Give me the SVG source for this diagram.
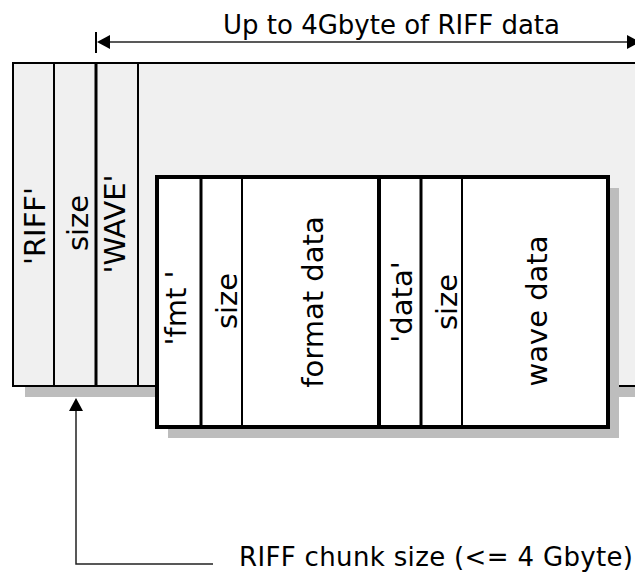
<svg xmlns="http://www.w3.org/2000/svg" width="635" height="579" viewBox="0 0 635 579">
<defs>
<style>
.lbl{font-family:"DejaVu Sans","Liberation Sans",sans-serif;fill:#000}
.h{font-size:26px}
.v{font-size:29px;text-anchor:middle}
.shadow{fill:#bdbdbd}
.outer{fill:#f0f0f0;stroke:#000;stroke-width:2}
.inner{fill:#fff;stroke:#000;stroke-width:4}
.sep{stroke:#000;stroke-width:2}
.sep3{stroke:#000;stroke-width:3}
.sep4{stroke:#000;stroke-width:4}
.conn{stroke:#222;stroke-width:1.5;fill:none}
.head{fill:#000}
</style>
</defs>
<rect width="635" height="579" fill="#fff"/>

<g id="riff-chunk">
<rect class="shadow" x="25" y="74" width="640" height="323"/>
<rect class="outer" x="13" y="63" width="640" height="323"/>
<line class="sep" x1="54" y1="63" x2="54" y2="386"/>
<line class="sep3" x1="96" y1="63" x2="96" y2="386"/>
<line class="sep" x1="138" y1="63" x2="138" y2="386"/>
<text class="lbl v" transform="translate(45,226) rotate(-90)">'RIFF'</text>
<text class="lbl v" transform="translate(88,223) rotate(-90)">size</text>
<text class="lbl v" transform="translate(125,224) rotate(-90)">'WAVE'</text>
</g>

<g id="sub-chunks">
<rect class="shadow" x="168" y="188" width="451" height="250"/>
<rect class="inner" x="157" y="177" width="451" height="250"/>
</g>

<g id="fmt-chunk">
<line class="sep3" x1="201" y1="177" x2="201" y2="427"/>
<line class="sep" x1="242" y1="177" x2="242" y2="427"/>
<text class="lbl v" transform="translate(186,308) rotate(-90)">'fmt '</text>
<text class="lbl v" transform="translate(237,301) rotate(-90)">size</text>
<text class="lbl v" transform="translate(323,302) rotate(-90)">format data</text>
</g>

<g id="data-chunk">
<line class="sep4" x1="379" y1="177" x2="379" y2="427"/>
<line class="sep3" x1="421" y1="177" x2="421" y2="427"/>
<line class="sep" x1="462" y1="177" x2="462" y2="427"/>
<text class="lbl v" transform="translate(412,302) rotate(-90)">'data'</text>
<text class="lbl v" transform="translate(457,302) rotate(-90)">size</text>
<text class="lbl v" transform="translate(547,311) rotate(-90)">wave data</text>
</g>

<g id="connectors">
<line class="sep" x1="96" y1="32" x2="96" y2="53"/>
<line class="conn" x1="108" y1="42" x2="630" y2="42"/>
<polygon class="head" points="97,42 110,35 110,49"/>
<polygon class="head" points="627,35 640,42 627,49"/>
<polyline class="conn" points="76,409 76,564 213,564"/>
<polygon class="head" points="76,398 69,411 83,411"/>
</g>

<g id="labels">
<text class="lbl h" x="223" y="34" textLength="337" lengthAdjust="spacing">Up to 4Gbyte of RIFF data</text>
<text class="lbl h" x="239" y="566" textLength="394" lengthAdjust="spacing">RIFF chunk size (&lt;= 4 Gbyte)</text>
</g>
</svg>
